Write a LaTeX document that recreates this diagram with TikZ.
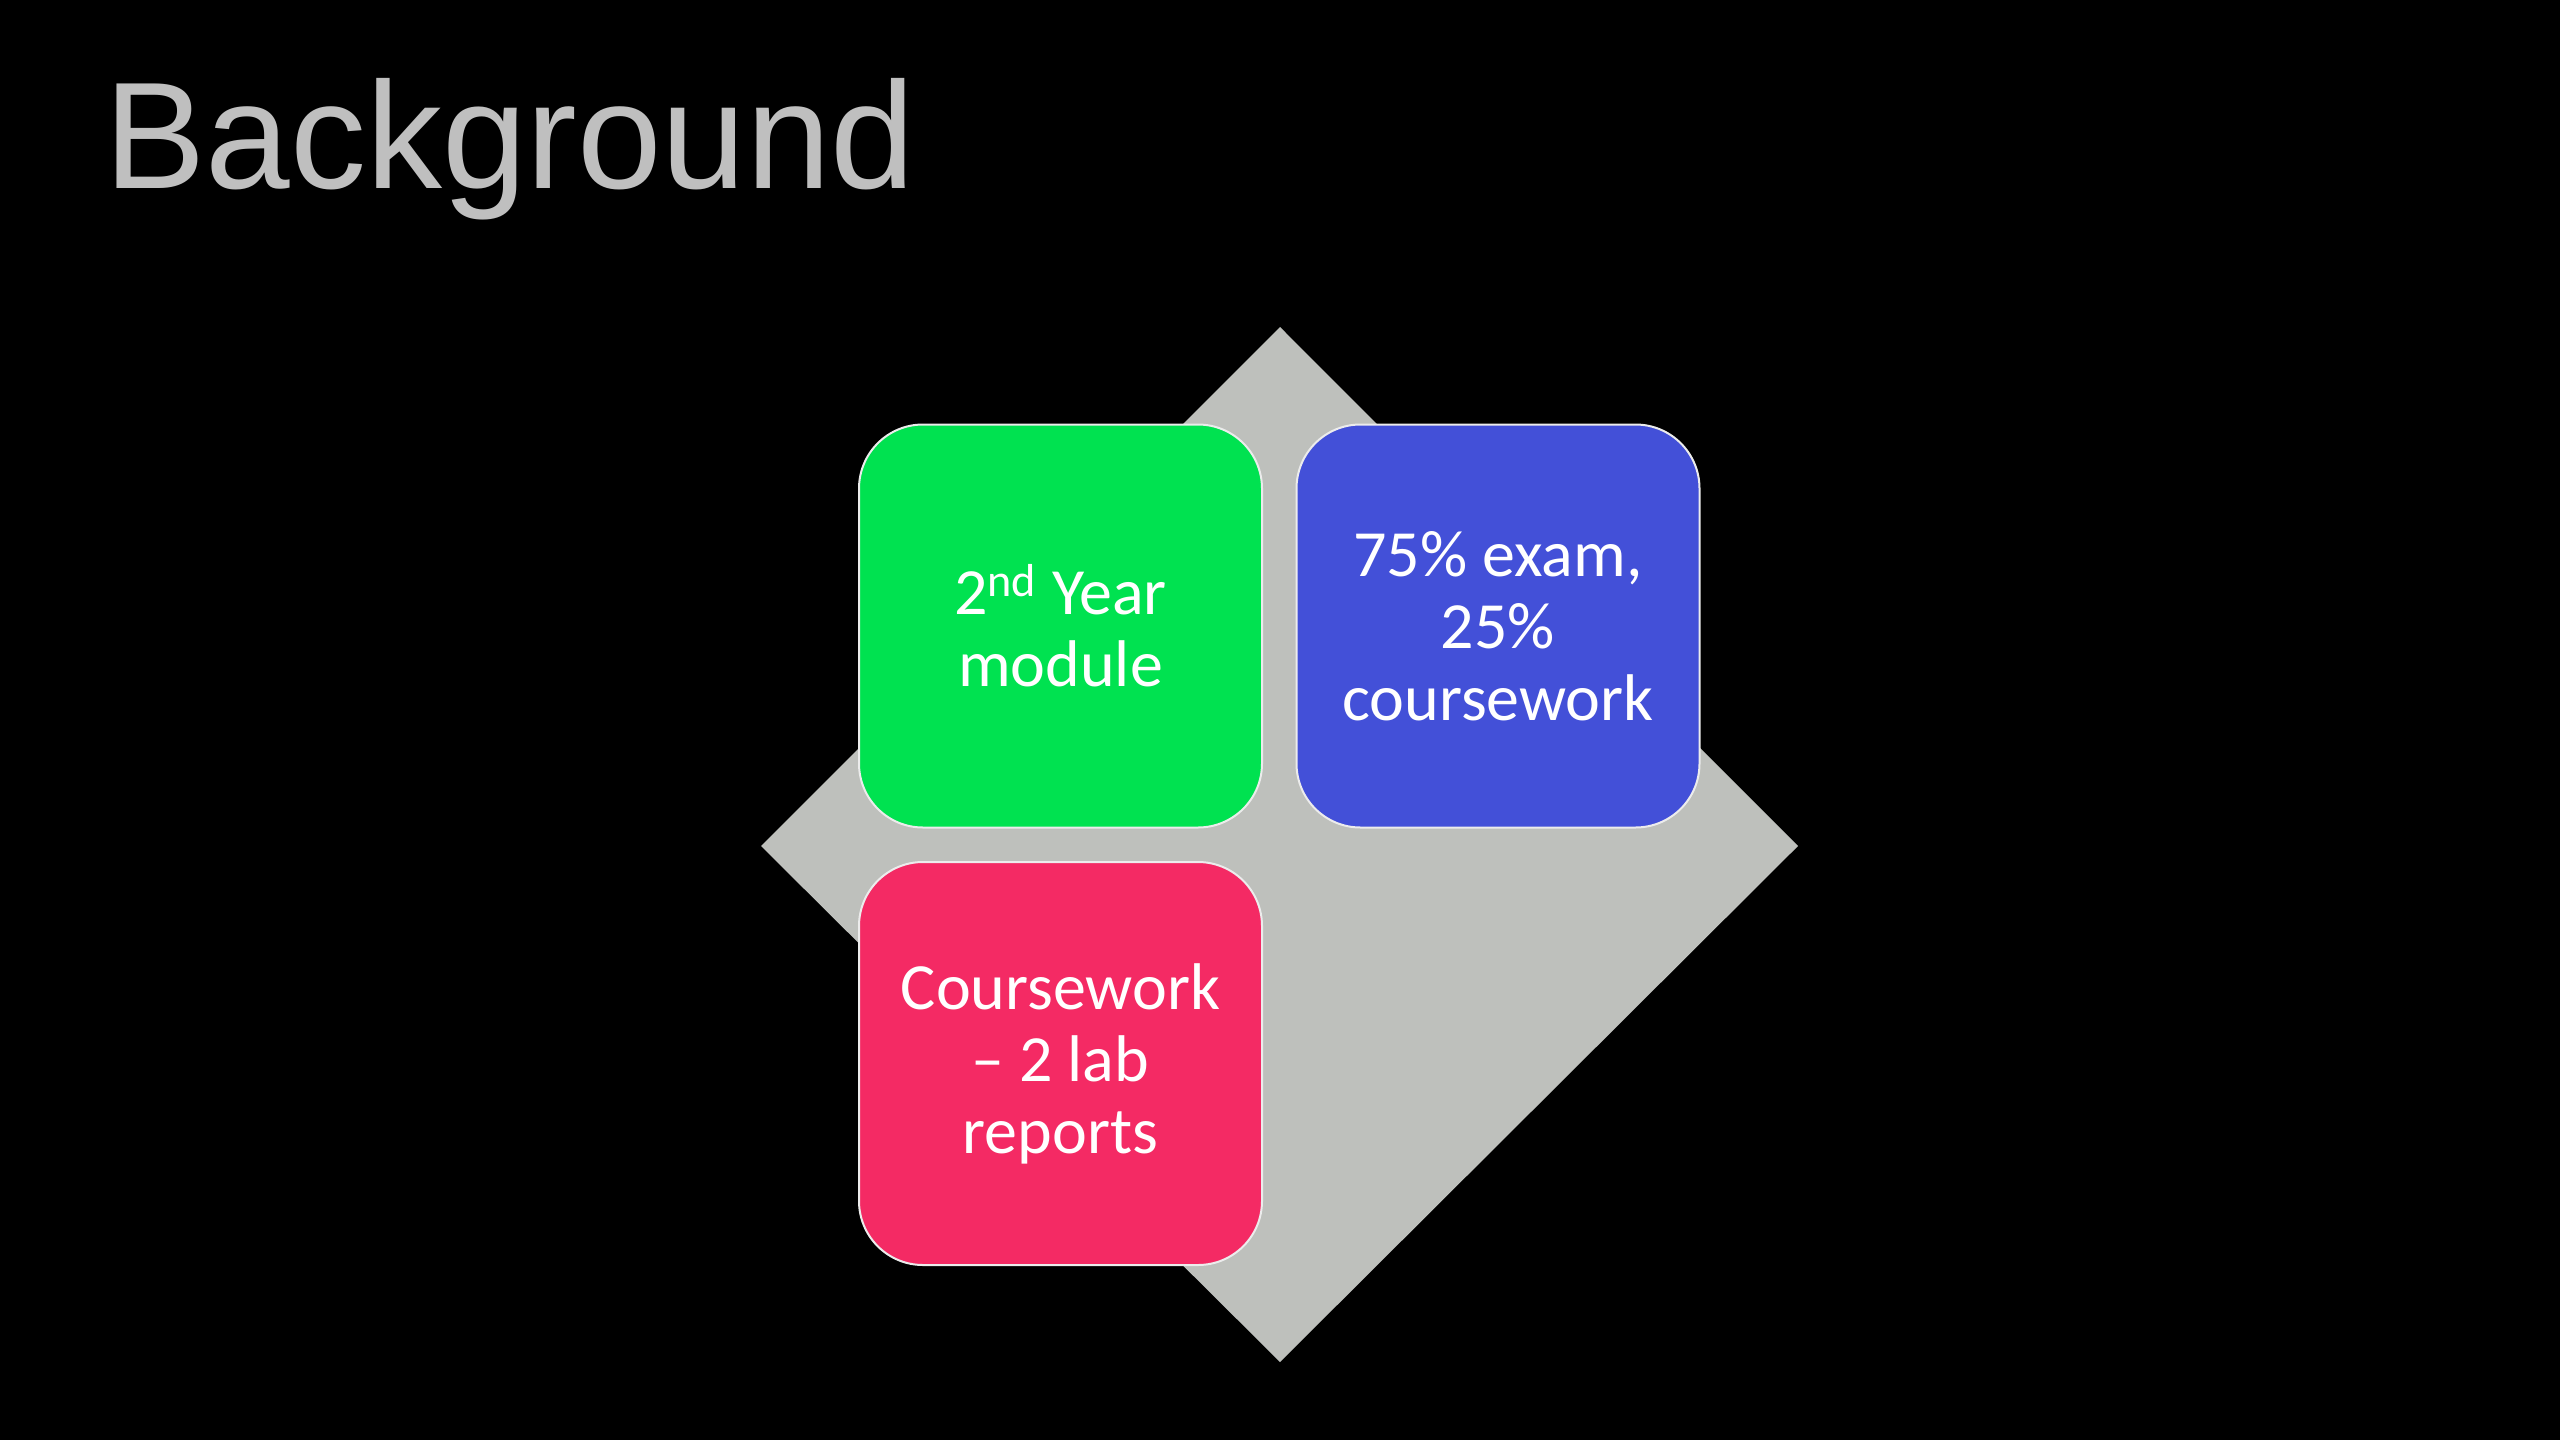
\documentclass[tikz,border=0pt]{standalone}
\usepackage{fontspec}
\setmainfont{Carlito}
\newfontfamily\titlefont{Liberation Sans}
\definecolor{bggray}{RGB}{190,192,188}
\definecolor{titlegray}{RGB}{191,191,191}
\definecolor{boxgreen}{RGB}{0,226,80}
\definecolor{boxblue}{RGB}{67,80,216}
\definecolor{boxpink}{RGB}{244,42,100}
\tikzset{
  card/.style={draw=white!85!gray, line width=1pt, rounded corners=32pt,
    minimum width=201.5pt, minimum height=201.5pt, inner sep=0pt,
    text=white, align=center, font=\fontsize{33}{36}\selectfont},
}
\begin{document}
\begin{tikzpicture}[x=0.5pt,y=-0.5pt]
\fill[black] (0,0) rectangle (2560,1440);
\useasboundingbox (0,0) rectangle (2560,1440);
\node[anchor=base west, inner sep=0pt, text=titlegray, font=\titlefont\fontsize{76}{80}\selectfont] (title) at (104,188) {Background};
\fill[bggray] (1280,327) coordinate (dt) -- (1798,846) coordinate (dr) -- (1280,1362) coordinate (db) -- (761,846) coordinate (dl) -- cycle;
\node[card, fill=boxgreen] (green) at (1060.5,626) {2\textsuperscript{nd} Year\\module};
\node[card, fill=boxblue] (blue) at (1498,626) {75\% exam,\\25\%\\coursework};
\node[card, fill=boxpink] (pink) at (1060.5,1063.5) {Coursework\\– 2 lab\\reports};
\end{tikzpicture}
\end{document}
